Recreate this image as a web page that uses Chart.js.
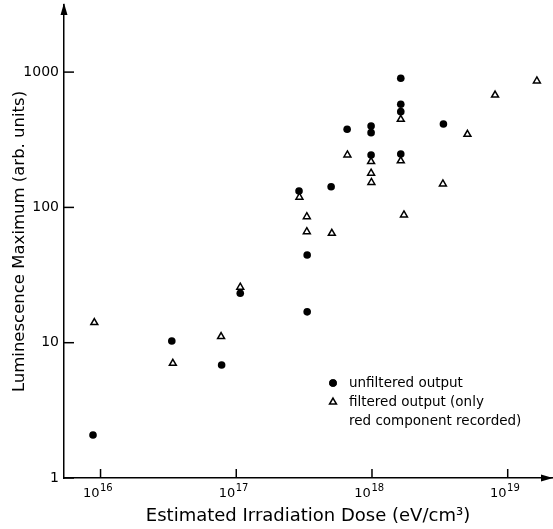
<!DOCTYPE html>
<html>
<head>
<meta charset="utf-8">
<script src="https://cdn.jsdelivr.net/npm/chart.js@4/dist/chart.umd.min.js"></script>
<style>
body{margin:0;background:#fff;}
canvas{display:block;}
</style>
</head>
<body>
<canvas id="doseChart" width="553" height="529"></canvas>
<script>
// unfiltered output (filled circles)
var unfilteredDose = [8.8e15, 3.35e16, 7.8e16, 1.07e17, 2.9e17, 3.33e17, 3.33e17, 5.0e17, 6.56e17, 9.85e17, 9.85e17, 9.85e17, 1.63e18, 1.63e18, 1.63e18, 1.63e18, 3.36e18];
var unfilteredLum = [2.08, 10.3, 6.85, 23.2, 132, 44.5, 16.9, 142, 378, 400, 357, 244, 900, 578, 510, 248, 413];

// filtered output, red component only (open triangles)
var filteredDose = [9.0e15, 3.41e16, 7.73e16, 1.07e17, 2.92e17, 3.31e17, 3.31e17, 5.06e17, 6.59e17, 9.85e17, 9.85e17, 9.9e17, 1.63e18, 1.63e18, 1.72e18, 3.33e18, 5.05e18, 8.07e18, 1.64e19];
var filteredLum = [14.1, 7.04, 11.1, 25.7, 119, 85.4, 66.1, 64.4, 244, 218, 179, 153, 448, 221, 87.9, 149, 347, 677, 860];

var doseTicks = [1e16, 1e17, 1e18, 1e19];
var doseExponents = ["16", "17", "18", "19"];
var lumTicks = [1, 10, 100, 1000];
var lumTickLabels = ["1", "10", "100", "1000"];

var legendLines = ["unfiltered output", "filtered output (only", "red component recorded)"];

function toPoints(xs, ys){
  var pts = [];
  for (var i = 0; i < xs.length; i++) pts.push({x: xs[i], y: ys[i]});
  return pts;
}

var FONT = "'DejaVu Sans', sans-serif";

// inward tick marks, 10^n labels, arrow heads and the legend
var decorations = {
  id: "decorations",
  afterDraw: function(chart){
    var ctx = chart.ctx;
    var xs = chart.scales.x, ys = chart.scales.y;
    var area = chart.chartArea;
    ctx.save();
    ctx.strokeStyle = "#000";
    ctx.fillStyle = "#000";
    ctx.lineWidth = 1.5;
    doseTicks.forEach(function(v, i){
      var px = xs.getPixelForValue(v);
      ctx.beginPath();
      ctx.moveTo(px, area.bottom);
      ctx.lineTo(px, area.bottom - 9);
      ctx.stroke();
      // label 10 with raised exponent
      ctx.textBaseline = "alphabetic";
      ctx.textAlign = "left";
      ctx.font = "13px " + FONT;
      var w1 = ctx.measureText("10").width;
      ctx.font = "10px " + FONT;
      var w2 = ctx.measureText(doseExponents[i]).width;
      var x0 = px - 3 - (w1 + w2) / 2;
      ctx.font = "13px " + FONT;
      ctx.fillText("10", x0, area.bottom + 19);
      ctx.font = "10px " + FONT;
      ctx.fillText(doseExponents[i], x0 + w1 + 0.5, area.bottom + 12.5);
    });
    lumTicks.forEach(function(v){
      var py = ys.getPixelForValue(v);
      ctx.beginPath();
      ctx.moveTo(area.left, py);
      ctx.lineTo(area.left + 10, py);
      ctx.stroke();
    });
    // arrow on the y axis
    ctx.beginPath();
    ctx.moveTo(area.left, area.top - 2);
    ctx.lineTo(area.left - 3.5, area.top + 10);
    ctx.lineTo(area.left + 3.5, area.top + 10);
    ctx.closePath();
    ctx.fill();
    // arrow on the x axis
    ctx.beginPath();
    ctx.moveTo(area.right + 1, area.bottom);
    ctx.lineTo(area.right - 11, area.bottom - 3.5);
    ctx.lineTo(area.right - 11, area.bottom + 3.5);
    ctx.closePath();
    ctx.fill();

    // legend
    var lx = 333, ly = 383;
    Chart.helpers.drawPoint(ctx, {pointStyle: "circle", radius: 3.8, borderWidth: 0}, lx, ly);
    ctx.fill();
    ctx.fillStyle = "#fff";
    ctx.lineWidth = 1.5;
    Chart.helpers.drawPoint(ctx, {pointStyle: "triangle", radius: 4, borderWidth: 1.5}, lx, ly + 19);
    ctx.fillStyle = "#000";
    ctx.font = "13.5px " + FONT;
    ctx.textBaseline = "middle";
    ctx.textAlign = "left";
    legendLines.forEach(function(t, i){
      ctx.fillText(t, 349, ly + i * 19);
    });
    ctx.restore();
  }
};

function noPad(s){
  s.paddingTop = 0;
  s.paddingBottom = 0;
  s.paddingLeft = 0;
  s.paddingRight = 0;
}

new Chart(
document.getElementById("doseChart"),
{
type: "scatter",
data: {
datasets: [{
label: "unfiltered output",
data: toPoints(unfilteredDose, unfilteredLum),
pointStyle: "circle",
pointRadius: 3.8,
pointBackgroundColor: "#000",
pointBorderWidth: 0,
order: 2
},{
label: "filtered output (only red component recorded)",
data: toPoints(filteredDose, filteredLum),
pointStyle: "triangle",
pointRadius: 4,
pointBackgroundColor: "#fff",
pointBorderColor: "#000",
pointBorderWidth: 1.5,
order: 1
}]
},
options: {
responsive: false,
animation: false,
devicePixelRatio: 1,
layout: {autoPadding: false, padding: {top: 5, right: 1, left: 0, bottom: 0}},
plugins: {
legend: {display: false},
tooltip: {enabled: false}
},
scales: {
x: {
type: "logarithmic",
min: 5.38e15,
max: 2.12e19,
afterFit: function(s){ s.height = 51; noPad(s); },
afterBuildTicks: function(s){ s.ticks = doseTicks.map(function(v){ return {value: v}; }); },
grid: {display: true, drawOnChartArea: false, drawTicks: false},
border: {display: true, color: "#000", width: 1.5},
ticks: {display: false},
title: {
display: true,
text: "Estimated Irradiation Dose (eV/cm\u00b3)",
color: "#000",
font: {family: FONT, size: 18},
padding: {top: 0, bottom: 2}
}
},
y: {
type: "logarithmic",
min: 1,
max: 3133,
afterFit: function(s){ s.width = 64; noPad(s); },
afterBuildTicks: function(s){ s.ticks = lumTicks.map(function(v){ return {value: v}; }); },
grid: {display: true, drawOnChartArea: false, drawTicks: false},
border: {display: true, color: "#000", width: 1.5},
ticks: {
padding: 5,
color: "#000",
font: {family: FONT, size: 14},
callback: function(v){ return lumTickLabels[lumTicks.indexOf(v)]; }
},
title: {
display: true,
text: "Luminescence Maximum (arb. units)",
color: "#000",
font: {family: FONT, size: 16.5},
padding: {top: 10, bottom: 0}
}
}
}
},
plugins: [decorations]
});
</script>
</body>
</html>
